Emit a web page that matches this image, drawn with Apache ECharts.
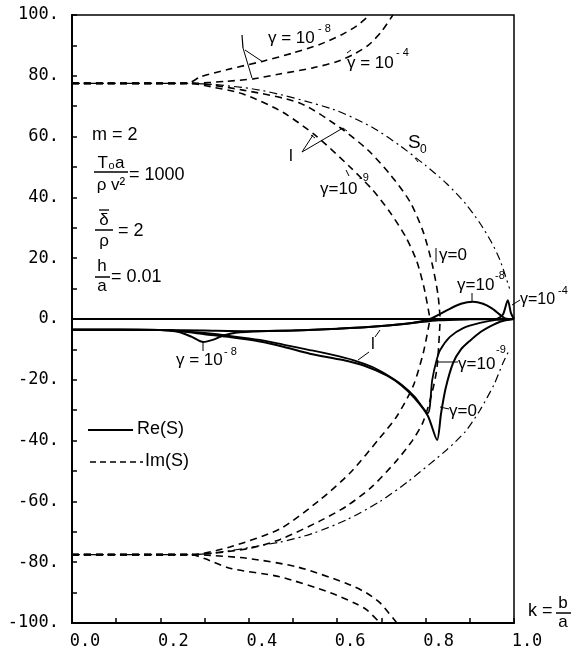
<!DOCTYPE html>
<html><head><meta charset="utf-8">
<script src="https://cdn.jsdelivr.net/npm/echarts@6/dist/echarts.min.js"></script>
<style>html,body{margin:0;padding:0;background:#fff}#c{width:576px;height:652px}</style>
</head><body><div id="c"></div>
<script>
// ---- data (k = b/a, value) ----
const xTicks = [0, 0.2, 0.4, 0.6, 0.8, 1.0];
const yTicks = [-100, -80, -60, -40, -20, 0, 20, 40, 60, 80, 100];

// Re(S)
const reZero = [[0,0],[1,0]];
const reG4 = [[0,-3.5],[0.1,-3.5],[0.2,-3.6],[0.3,-3.8],[0.4,-4.0],[0.5,-3.8],[0.6,-3.2],[0.7,-2.3],[0.77,-1.3],[0.83,-0.4],[0.9,-0.1],[0.96,0],[0.975,1.5],[0.986,6.2],[0.993,2],[1.0,0]];
const reG8 = [[0,-3.5],[0.2,-3.6],[0.24,-4.2],[0.27,-5.8],[0.297,-7.6],[0.32,-6.8],[0.345,-5.3],[0.37,-4.5],[0.425,-4.0],[0.5,-3.8],[0.6,-3.2],[0.7,-2.3],[0.77,-1.3],[0.81,0],[0.85,3],[0.88,5],[0.907,5.7],[0.93,5],[0.95,3.5],[0.97,1.2],[0.98,0.2],[1.0,0]];
const reG9 = [[0,-3.5],[0.2,-3.6],[0.25,-4.0],[0.3,-4.6],[0.36,-5.6],[0.425,-6.9],[0.48,-8.5],[0.538,-10.2],[0.59,-11.8],[0.636,-13.5],[0.68,-15.8],[0.713,-18.4],[0.745,-21.5],[0.775,-25.5],[0.805,-31],[0.815,-20],[0.825,-13.5],[0.833,-10.2],[0.855,-5.9],[0.885,-3],[0.923,-1.3],[0.96,-0.3],[1.0,0]];
const reG0 = [[0,-3.5],[0.2,-3.6],[0.25,-4.1],[0.3,-5.0],[0.36,-6.0],[0.425,-7.4],[0.48,-9.2],[0.538,-11.4],[0.613,-13.5],[0.66,-15.3],[0.713,-18.6],[0.745,-21.8],[0.775,-26],[0.805,-31.8],[0.826,-39.8],[0.835,-31],[0.845,-23],[0.862,-14.5],[0.88,-10],[0.9,-7.2],[0.925,-4.2],[0.946,-2.4],[0.97,-0.8],[1.0,0]];

// Im(S) upper branch
const imUp8 = [[0,77.5],[0.25,77.5],[0.27,78],[0.29,79.6],[0.35,82],[0.432,84.8],[0.5,87.5],[0.56,90.3],[0.61,93.5],[0.645,96.5],[0.674,100]];
const imUp4 = [[0,77.5],[0.27,77.5],[0.35,78.2],[0.41,79],[0.47,80.6],[0.545,82.6],[0.6,84.7],[0.636,87],[0.67,90],[0.70,94.5],[0.726,100]];
const imUp9 = [[0,77.5],[0.27,77.5],[0.3,76.8],[0.387,74],[0.477,68],[0.554,60],[0.629,50],[0.68,42.5],[0.72,35],[0.755,27],[0.78,19],[0.797,10],[0.81,0]];
const imUp0 = [[0,77.5],[0.27,77.5],[0.387,75.3],[0.516,71],[0.606,63],[0.67,55.5],[0.72,47.5],[0.765,38.5],[0.795,28.5],[0.815,18],[0.828,8],[0.833,0]];
const imUpS0 = [[0,77.5],[0.27,77.5],[0.425,75.3],[0.59,69],[0.68,63],[0.742,57],[0.8,50.5],[0.848,44.5],[0.89,38],[0.923,31.5],[0.95,25],[0.968,19.5],[0.99,10]];
// Im(S) lower branch
const imLo9 = [[0,-77.5],[0.27,-77.5],[0.357,-75],[0.471,-69],[0.561,-59.5],[0.63,-50.5],[0.697,-39],[0.735,-32],[0.772,-22],[0.795,-11],[0.81,0]];
const imLo0 = [[0,-77.5],[0.27,-77.5],[0.4,-75.5],[0.471,-72.5],[0.56,-66.5],[0.622,-61.5],[0.68,-55],[0.735,-46.5],[0.77,-40],[0.794,-34],[0.815,-24],[0.826,-15.8],[0.833,0]];
const imLoS0 = [[0,-77.5],[0.27,-77.5],[0.47,-73.4],[0.545,-70.5],[0.622,-66],[0.697,-60],[0.76,-53.5],[0.848,-43],[0.89,-37],[0.923,-30],[0.955,-21.5],[0.975,-14.5],[0.99,-10]];
const imLo8 = [[0,-77.5],[0.27,-77.5],[0.3,-78.8],[0.357,-82],[0.47,-84.8],[0.584,-90],[0.64,-93.5],[0.667,-95.7],[0.697,-100]];
const imLo4 = [[0,-77.5],[0.27,-77.5],[0.297,-77.6],[0.395,-78.7],[0.508,-81.5],[0.62,-86.9],[0.665,-90],[0.697,-93.4],[0.735,-100]];

// ---- styles ----
const FONT = 'Liberation Sans';
const AXFONT = 'DejaVu Sans Mono';
function reS(name, data, w) {
  return {name, type:'line', data, showSymbol:false, smooth:0.25, silent:true,
    lineStyle:{color:'#000', width:w||2, type:'solid'}};
}
function imS(name, data) {
  return {name, type:'line', data, showSymbol:false, smooth:0.25, silent:true,
    lineStyle:{color:'#000', width:1.6, type:[7,5]}};
}
function s0S(name, data) {
  return {name, type:'line', data, showSymbol:false, smooth:0.25, silent:true,
    lineStyle:{color:'#000', width:1.2, type:[8,4,2,4]}};
}
function T(x, y, text, size, align) {
  return {type:'text', x, y, z:100, style:{text, fontSize:size||16, fontFamily:FONT, fill:'#000',
    align:align||'left', verticalAlign:'middle'}};
}
function L(x1, y1, x2, y2, w, dash) {
  return {type:'line', z:100, shape:{x1,y1,x2,y2}, style:{stroke:'#000', lineWidth:w||1, lineDash:dash||null}};
}

const graphics = [
  // parameter block
  T(92,135,'m = 2',18),
  T(111,163,'T₀a',17,'center'), L(94,172,128,172,1.5), T(111,185,'ρ v²',17,'center'), T(129,175,'= 1000',18),
  T(104,220,'δ',17,'center'), L(99,210,109,210,1.3), L(95,230,113,230,1.5), T(104,241,'ρ',17,'center'), T(118,231,'= 2',18),
  T(102,266,'h',17,'center'), L(95,277,110,277,1.5), T(102,286,'a',17,'center'), T(111,277,'= 0.01',18),
  // legend
  L(88,430,133,430,2), T(137,429,'Re(S)',18),
  L(90,462,143,462,1.5,[6,4]), T(145,461,'Im(S)',18),
  // k = b/a
  T(528,611,'k =',18), T(563,603,'b',17,'center'), L(556,613,571,613,1.5), T(563,622,'a',17,'center'),
  // top labels
  T(268,38,'γ = 10',17), T(318,29,'- 8',11),
  L(242,35,243,48,1.2), L(243,48,252,78,1), L(245,50,263,62,1),
  T(347,63,'γ = 10',17), T(396,53,'- 4',11), L(347,53,351,50,1),
  T(408,143,'S',19), T(420,150,'0',12), L(415,158,418,162,1),
  T(289,156,'l',17), L(302,152,313,135,1), L(302,152,343,128,1), L(343,128,347,131,1), L(311,135,315,138,1),
  T(320,189,'γ=10',17), T(359,178,'-9',11), L(346,170,349,176,1),
  T(439,255,'γ=0',17), L(436,248,436,262,1),
  // Re labels
  T(457,285,'γ=10',17), T(495,276,'-8',11), L(472,293,472,301,1),
  T(520,300,'γ=10',16), T(558,291,'-4',11), L(512,305,520,300,1),
  T(176,360,'γ = 10',17), T(224,352,'- 8',11), L(203,343,203,351,1),
  T(371,344,'l',17), L(369,352,358,360,1), L(375,337,380,330,1),
  T(458,364,'γ=10',17), T(496,350,'-9',11), L(437,362,458,362,1),
  T(449,411,'γ=0',17), L(440,407,449,409,1)
];

const chart = echarts.init(document.getElementById('c'), null, {renderer:'canvas'});
chart.setOption({
  animation:false,
  backgroundColor:'#fff',
  grid:{left:72, top:15, width:442, height:608, show:true, borderColor:'#000', borderWidth:1.5, backgroundColor:'transparent'},
  xAxis:{type:'value', min:xTicks[0], max:xTicks[xTicks.length-1], interval:0.2,
    axisLine:{show:true, onZero:false, lineStyle:{color:'#000', width:2}},
    axisTick:{show:true, inside:true, length:5, lineStyle:{color:'#000', width:1.5}},
    minorTick:{show:true, splitNumber:2, length:5, lineStyle:{color:'#000', width:1.5}},
    splitLine:{show:false},
    axisLabel:{color:'#000', fontFamily:AXFONT, fontSize:17, margin:10, padding:[0,0,0,26],
      formatter:v=>v.toFixed(1), showMinLabel:true, showMaxLabel:true}},
  yAxis:{type:'value', min:yTicks[0], max:yTicks[yTicks.length-1], interval:20,
    axisLine:{show:true, onZero:false, lineStyle:{color:'#000', width:2}},
    axisTick:{show:true, inside:true, length:5, lineStyle:{color:'#000', width:1.5}},
    minorTick:{show:true, splitNumber:2, length:5, lineStyle:{color:'#000', width:1.5}},
    splitLine:{show:false},
    axisLabel:{color:'#000', fontFamily:AXFONT, fontSize:17, margin:13, formatter:v=>v+'.'}},
  series:[
    reS('zero', reZero, 2),
    reS('Re g4', reG4, 2), reS('Re g8', reG8, 2), reS('Re g9', reG9, 1.8), reS('Re g0', reG0, 2),
    imS('Im up g8', imUp8), imS('Im up g4', imUp4), imS('Im up g9', imUp9), imS('Im up g0', imUp0), s0S('Im up S0', imUpS0),
    imS('Im lo g9', imLo9), imS('Im lo g0', imLo0), s0S('Im lo S0', imLoS0), imS('Im lo g8', imLo8), imS('Im lo g4', imLo4)
  ],
  graphic:graphics
});
</script></body></html>
